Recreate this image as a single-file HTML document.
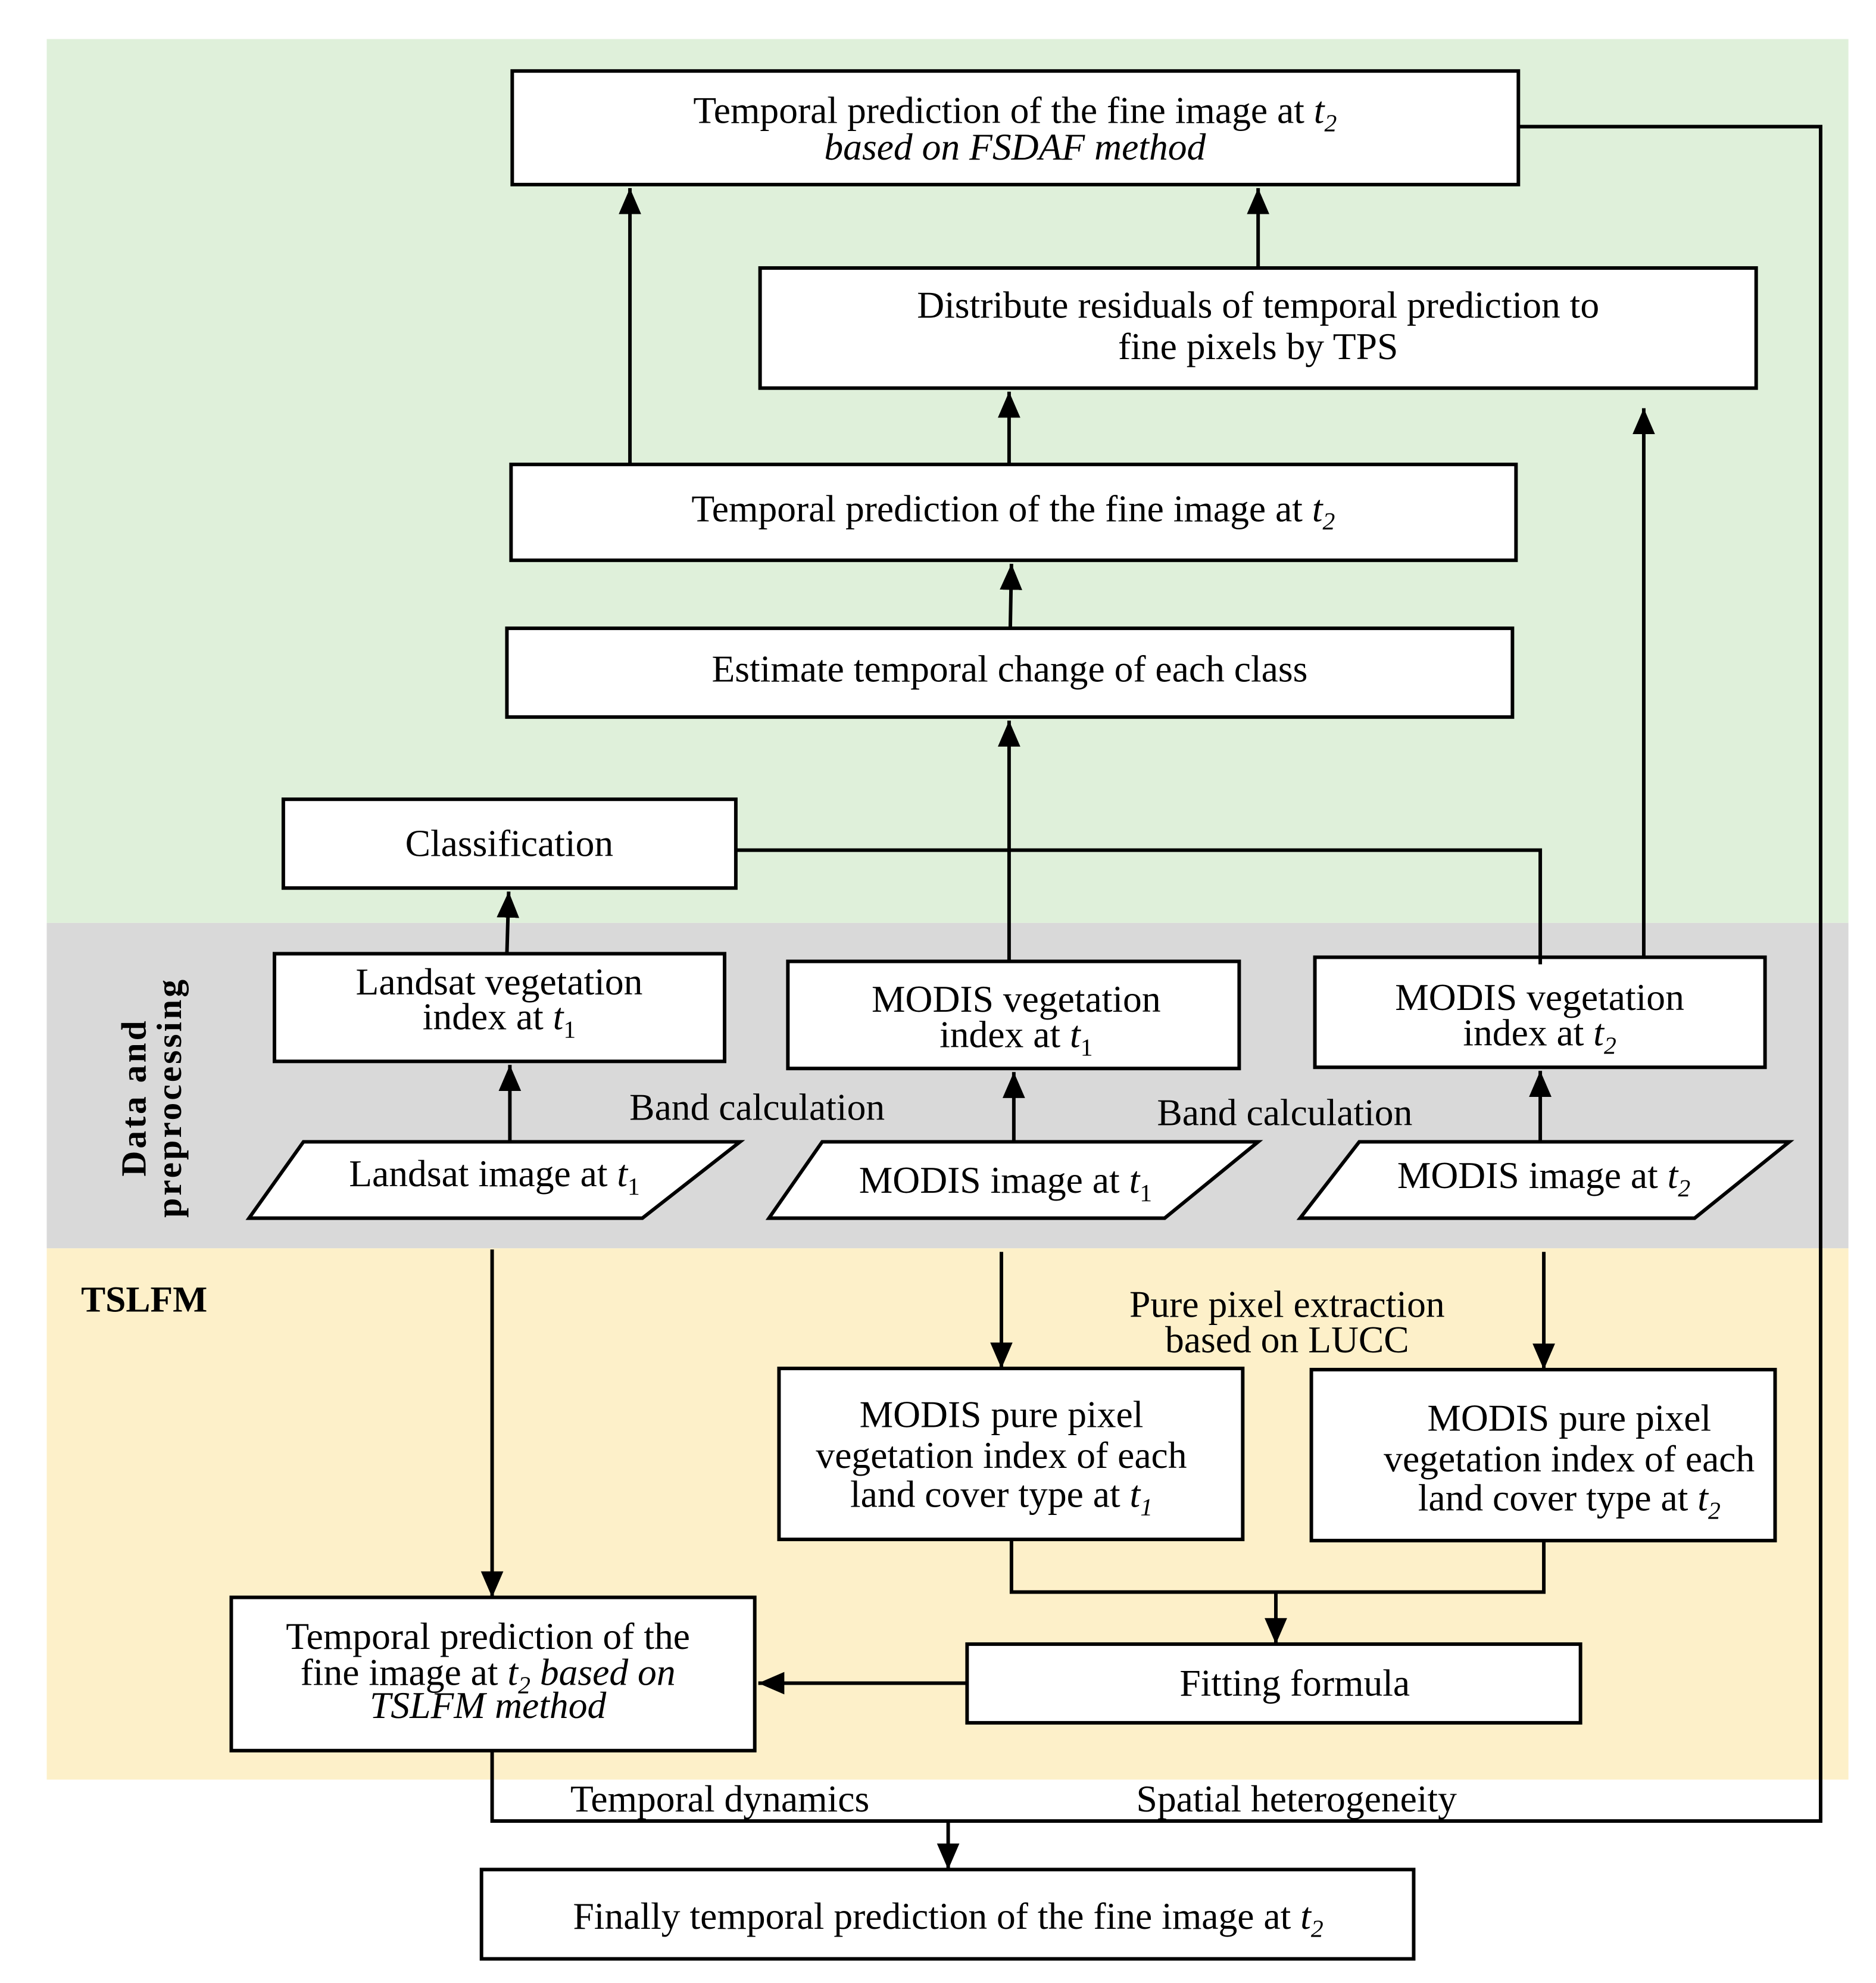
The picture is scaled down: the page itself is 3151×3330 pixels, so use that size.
<!DOCTYPE html>
<html><head><meta charset="utf-8"><style>html,body{margin:0;padding:0;background:#fff}svg{display:block}text{font-family:"Liberation Serif",serif;fill:#000}</style></head><body>
<svg width="3151" height="3330" viewBox="0 0 3151 3330" xmlns="http://www.w3.org/2000/svg">
<defs>
<marker id="h" viewBox="0 0 10 10" refX="10" refY="5" markerWidth="44" markerHeight="38" markerUnits="userSpaceOnUse" orient="auto" preserveAspectRatio="none"><path d="M0,0 L10,5 L0,10 z" fill="#000"/></marker></defs>
<g transform="scale(0.9935)">
<rect x="79" y="66" width="3046" height="1494" fill="#dff0da"/>
<rect x="79" y="1560" width="3046" height="550" fill="#d9d9d9"/>
<rect x="79" y="2110" width="3046" height="898" fill="#fdf0c9"/>
<g fill="#fff" stroke="#000" stroke-width="6">
<rect x="866" y="120" width="1701" height="192"/>
<rect x="1285" y="453" width="1684" height="203"/>
<rect x="864" y="785" width="1699" height="162"/>
<rect x="857" y="1062" width="1700" height="150"/>
<rect x="479" y="1351" width="765" height="150"/>
<rect x="464" y="1612" width="761" height="182"/>
<rect x="1332" y="1625" width="763" height="181"/>
<rect x="2223" y="1618" width="761" height="186"/>
<polygon points="513,1930 1251,1930 1086,2059 421,2059"/>
<polygon points="1390,1930 2127,1930 1969,2059 1300,2059"/>
<polygon points="2298,1930 3025,1930 2865,2059 2198,2059"/>
<rect x="1317" y="2313" width="784" height="289"/>
<rect x="2217" y="2315" width="784" height="289"/>
<rect x="1635" y="2779" width="1037" height="133"/>
<rect x="391" y="2700" width="885" height="259"/>
<rect x="814" y="3160" width="1576" height="151"/>
</g>
<g fill="none" stroke="#000" stroke-width="6">
<polyline points="2567,214 3078,214 3078,3078 832,3078 832,2959"/>
<line x1="1065" y1="785" x2="1065" y2="318" marker-end="url(#h)"/>
<line x1="2127" y1="453" x2="2127" y2="318" marker-end="url(#h)"/>
<line x1="1706" y1="785" x2="1706" y2="662" marker-end="url(#h)"/>
<line x1="1708" y1="1062" x2="1710" y2="953" marker-end="url(#h)"/>
<line x1="1706" y1="1625" x2="1706" y2="1218" marker-end="url(#h)"/>
<line x1="2779" y1="1618" x2="2779" y2="690" marker-end="url(#h)"/>
<polyline points="1244,1437 2604,1437 2604,1630"/>
<line x1="857" y1="1612" x2="860" y2="1507" marker-end="url(#h)"/>
<line x1="862" y1="1930" x2="862" y2="1800" marker-end="url(#h)"/>
<line x1="1714" y1="1930" x2="1714" y2="1812" marker-end="url(#h)"/>
<line x1="2604" y1="1930" x2="2604" y2="1810" marker-end="url(#h)"/>
<line x1="832" y1="2112" x2="832" y2="2700" marker-end="url(#h)"/>
<line x1="1693" y1="2116" x2="1693" y2="2313" marker-end="url(#h)"/>
<line x1="2610" y1="2116" x2="2610" y2="2315" marker-end="url(#h)"/>
<polyline points="1710,2602 1710,2691 2610,2691 2610,2604"/>
<line x1="2157" y1="2691" x2="2157" y2="2779" marker-end="url(#h)"/>
<line x1="1635" y1="2845" x2="1282" y2="2845" marker-end="url(#h)"/>
<line x1="1603" y1="3078" x2="1603" y2="3160" marker-end="url(#h)"/>
</g>
<g font-size="64" text-anchor="middle">
<text x="1716" y="208">Temporal prediction of the fine image at <tspan font-style="italic">t</tspan><tspan font-style="italic" font-size="42" dy="14">2</tspan></text>
<text x="1716" y="270" font-style="italic">based on FSDAF method</text>
<text x="2127" y="537">Distribute residuals of temporal prediction to</text>
<text x="2127" y="607">fine pixels by TPS</text>
<text x="1713" y="881">Temporal prediction of the fine image at <tspan font-style="italic">t</tspan><tspan font-style="italic" font-size="42" dy="14">2</tspan></text>
<text x="1707" y="1152">Estimate temporal change of each class</text>
<text x="861" y="1447">Classification</text>
<text x="844" y="1681">Landsat vegetation</text>
<text x="844" y="1740">index at <tspan font-style="italic">t</tspan><tspan font-size="42" dy="14">1</tspan></text>
<text x="1718" y="1710">MODIS vegetation</text>
<text x="1718" y="1770">index at <tspan font-style="italic">t</tspan><tspan font-size="42" dy="14">1</tspan></text>
<text x="2603" y="1707">MODIS vegetation</text>
<text x="2603" y="1767">index at <tspan font-style="italic">t</tspan><tspan font-style="italic" font-size="42" dy="14">2</tspan></text>
<text x="1280" y="1893">Band calculation</text>
<text x="2172" y="1902">Band calculation</text>
<text x="836" y="2005">Landsat image at <tspan font-style="italic">t</tspan><tspan font-size="42" dy="14">1</tspan></text>
<text x="1700" y="2016">MODIS image at <tspan font-style="italic">t</tspan><tspan font-size="42" dy="14">1</tspan></text>
<text x="2610" y="2008">MODIS image at <tspan font-style="italic">t</tspan><tspan font-style="italic" font-size="42" dy="14">2</tspan></text>
<text x="2176" y="2226">Pure pixel extraction</text>
<text x="2176" y="2286">based  on LUCC</text>
<text x="1693" y="2412">MODIS pure pixel</text>
<text x="1693" y="2481">vegetation index of each</text>
<text x="1693" y="2547">land cover type at <tspan font-style="italic">t</tspan><tspan font-style="italic" font-size="42" dy="14">1</tspan></text>
<text x="2653" y="2418">MODIS pure pixel</text>
<text x="2653" y="2487">vegetation index of each</text>
<text x="2653" y="2553">land cover type at <tspan font-style="italic">t</tspan><tspan font-style="italic" font-size="42" dy="14">2</tspan></text>
<text x="2189" y="2866">Fitting formula</text>
<text x="825" y="2787">Temporal prediction of the</text>
<text x="825" y="2848">fine image at <tspan font-style="italic">t</tspan><tspan font-style="italic" font-size="42" dy="14">2</tspan><tspan font-style="italic" dy="-14"> based on</tspan></text>
<text x="825" y="2904" font-style="italic">TSLFM method</text>
<text x="1217" y="3062">Temporal dynamics</text>
<text x="2192" y="3062">Spatial heterogeneity</text>
<text x="1603" y="3260">Finally temporal prediction of the fine image at <tspan font-style="italic">t</tspan><tspan font-style="italic" font-size="42" dy="14">2</tspan></text>
</g>
<text x="137" y="2217" font-size="62" font-weight="bold">TSLFM</text>
<g transform="translate(256,1855) rotate(-90)" font-size="60" font-weight="bold" text-anchor="middle" letter-spacing="4">
<text x="0" y="-10">Data and</text>
<text x="0" y="50">preprocessing</text>
</g>
</g>
</svg>
</body></html>
